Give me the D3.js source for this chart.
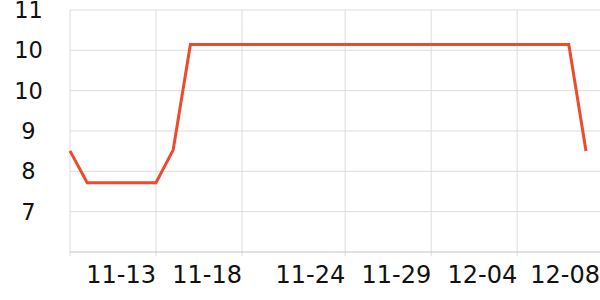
<!DOCTYPE html>
<html><head><meta charset="utf-8">
<script src="https://cdn.jsdelivr.net/npm/d3@7"></script>
<style>body{margin:0;background:#fff}svg{display:block;font-family:"DejaVu Sans",sans-serif}</style>
</head><body><svg id="c" width="600" height="300"></svg>
<script>
const dates = ["11-08","11-09","11-10","11-11","11-12","11-13","11-14","11-15","11-16","11-17","11-18","11-19","11-20","11-21","11-22","11-23","11-24","11-25","11-26","11-27","11-28","11-29","11-30","12-01","12-02","12-03","12-04","12-05","12-06","12-07","12-08"];
const values = [8.38,7.79,7.79,7.79,7.79,7.79,8.4,10.36,10.36,10.36,10.36,10.36,10.36,10.36,10.36,10.36,10.36,10.36,10.36,10.36,10.36,10.36,10.36,10.36,10.36,10.36,10.36,10.36,10.36,10.36,8.38];
const yTicks = [6.5,7.25,8,8.75,9.5,10.25,11];
const yTickLabels = ["","7","8","9","10","10","11"];
const xTicks = ["11-13","11-18","11-24","11-29","12-04","12-08"];

const parse = s => { const [m,d] = s.split("-").map(Number); return new Date(2023, m-1, d); };
const W = 600, H = 300, L = 70, R = 586, T = 10, B = 252;
const svg = d3.select("#c");
const x = d3.scaleTime().domain([parse(dates[0]), parse(dates[dates.length-1])]).range([L, R]);
const y = d3.scaleLinear().domain([6.5, 11]).range([B, T]);

// horizontal grid
svg.append("g").selectAll("line").data(yTicks.slice(1)).join("line")
  .attr("x1", L).attr("x2", W).attr("y1", d=>y(d)).attr("y2", d=>y(d))
  .attr("stroke", "#dcdcdc").attr("stroke-width", 1);
// vertical grid (left edge + ticks except last label)
const vg = [dates[0]].concat(xTicks.slice(0, -1));
svg.append("g").selectAll("line").data(vg).join("line")
  .attr("x1", d=>x(parse(d))).attr("x2", d=>x(parse(d))).attr("y1", T).attr("y2", B + 4)
  .attr("stroke", "#dcdcdc").attr("stroke-width", 1);
// baseline
svg.append("line").attr("x1", L).attr("x2", W).attr("y1", B).attr("y2", B)
  .attr("stroke", "#c4c4c4").attr("stroke-width", 1);

// y labels
svg.append("g").selectAll("text").data(yTicks).join("text")
  .attr("x", 28.5).attr("y", d=>y(d)).attr("dy", "0.36em")
  .attr("text-anchor", "middle").attr("font-size", 22.5).attr("fill", "#111")
  .text((d,i)=>yTickLabels[i]);
// x labels (right-aligned to tick; last pinned to chart edge)
svg.append("g").selectAll("text").data(xTicks).join("text")
  .attr("x", (d,i)=> i === xTicks.length-1 ? W : x(parse(d)))
  .attr("y", 283).attr("text-anchor", "end").attr("font-size", 24).attr("fill", "#111")
  .text(d=>d);

// line
svg.append("path").datum(dates.map((d,i)=>[parse(d), values[i]]))
  .attr("fill", "none").attr("stroke", "#ee4a2c").attr("stroke-width", 3)
  .attr("stroke-linejoin", "miter")
  .attr("d", d3.line().x(d=>x(d[0])).y(d=>y(d[1])));
</script></body></html>
